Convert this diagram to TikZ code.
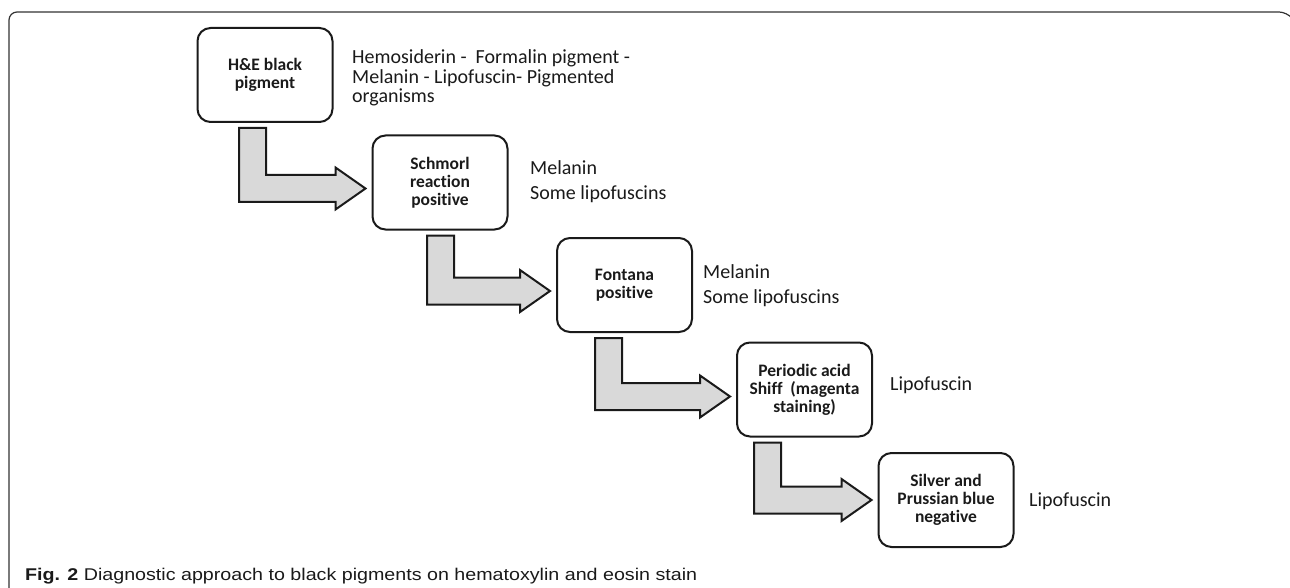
\documentclass[tikz,border=0pt]{standalone}
\usepackage{fontspec}
\usepackage{graphicx}
\setmainfont{Carlito}[Ligatures=NoCommon]
\newfontfamily\capfont{Liberation Sans}
\usetikzlibrary{calc}
\definecolor{arrfill}{HTML}{D9D9D9}
\definecolor{ink}{HTML}{1A1A1A}
\tikzset{
  stepbox/.style={draw=ink, line width=2pt, rounded corners=13pt, minimum width=135pt,
    minimum height=94pt, align=center, inner sep=2pt, text=ink,
    font=\fontsize{17.5}{18}\selectfont\bfseries},
  lbl/.style={anchor=west, align=left, inner sep=0pt, text=ink},
  fatarr/.style={draw=ink, line width=2pt, fill=arrfill, line join=miter},
  frameline/.style={draw=black!80, line width=1.2pt}
}
% #1 source node, #2 target node, #3 left x of shaft (pt), #4 tip y offset (pt, negative = lower)
\newcommand{\fatarrow}[4]{%
  \draw[fatarr] let \p1=(#1.south), \p2=(#2.west) in
    ({#3pt}, {\y1-5pt}) -- ({#3pt+27pt}, {\y1-5pt}) --
    ({#3pt+27pt}, {\y2+#4pt+13.5pt}) -- ({\x2-36pt}, {\y2+#4pt+13.5pt}) --
    ({\x2-36pt}, {\y2+#4pt+21pt}) -- ({\x2-6pt}, {\y2+#4pt}) --
    ({\x2-36pt}, {\y2+#4pt-21pt}) -- ({\x2-36pt}, {\y2+#4pt-13.5pt}) --
    ({#3pt}, {\y2+#4pt-13.5pt}) -- cycle;
}
\begin{document}
\begin{tikzpicture}[x=1pt, y=-1pt]
\useasboundingbox (0,0) rectangle (1290,588);
% frame
\draw[frameline, rounded corners=8pt] (9,589) -- (9,12) -- (1287,12) -- (1291,17);
% boxes
\node[stepbox] (b1) at (265,75) {H\&E black\\pigment};
\node[stepbox] (b2) at (440,182.5) {Schmorl\\reaction\\positive};
\node[stepbox] (b3) at (624.5,285) {Fontana\\positive};
\node[stepbox] (b4) at (804.5,389.5) {Periodic acid\\Shiff\ \ (magenta\\staining)};
\node[stepbox] (b5) at (946,500) {Silver and\\Prussian blue\\negative};
% labels
\node[lbl, font=\fontsize{20}{19.7}\selectfont] (l1) at (352,78)
  {Hemosiderin -\ \ Formalin pigment -\\Melanin - Lipofuscin- Pigmented\\organisms};
\node[lbl, font=\fontsize{20}{25}\selectfont] (l2) at (530,181.5) {Melanin\\Some lipofuscins};
\node[lbl, font=\fontsize{20}{25}\selectfont] (l3) at (703,285.5) {Melanin\\Some lipofuscins};
\node[lbl, font=\fontsize{20}{20}\selectfont] (l4) at (890,385) {Lipofuscin};
\node[lbl, font=\fontsize{20}{20}\selectfont] (l5) at (1029,501) {Lipofuscin};
% arrows
\fatarrow{b1}{b2}{239}{-6}
\fatarrow{b2}{b3}{427}{-6}
\fatarrow{b3}{b4}{595}{-7}
\fatarrow{b4}{b5}{754}{0}
% caption
\node[anchor=base west, inner sep=0pt, text=ink] (cap) at (25,580)
  {\resizebox{672pt}{\height}{\capfont\fontsize{17}{20}\selectfont\textbf{Fig. 2} Diagnostic approach to black pigments on hematoxylin and eosin stain}};
\end{tikzpicture}
\end{document}
